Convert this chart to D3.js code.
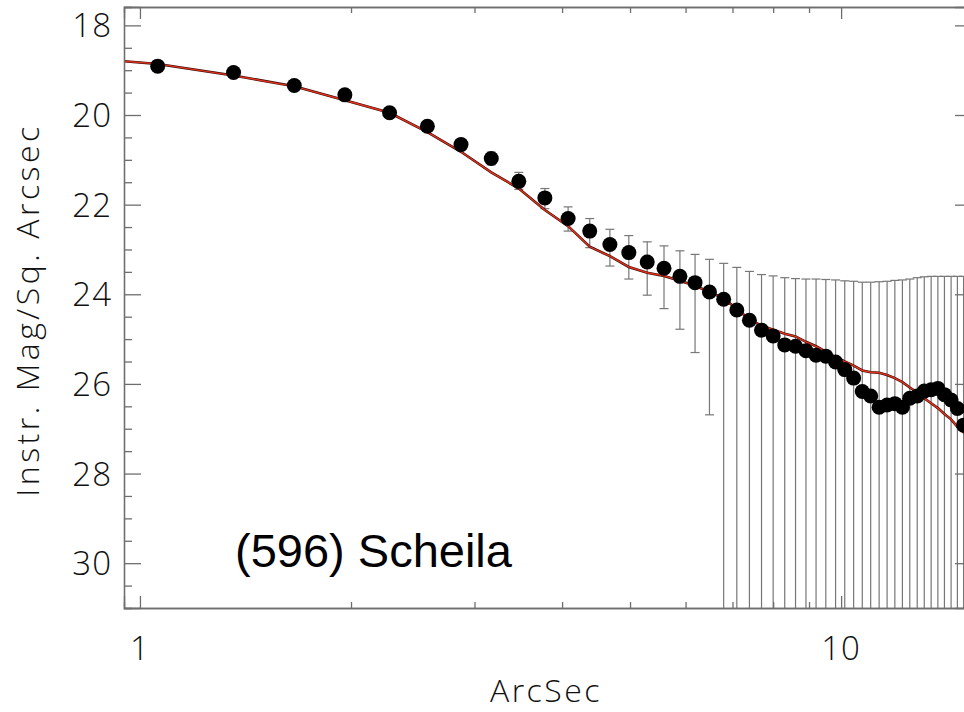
<!DOCTYPE html>
<html>
<head>
<meta charset="utf-8">
<script src="https://cdn.jsdelivr.net/npm/d3@7"></script>
<style>
  body { margin: 0; background: #fff; }
  svg { display: block; }
</style>
</head>
<body>
<div id="chart"></div>
<script>
// radial bins (arcsec)
var xVals = [1.06, 1.36, 1.66, 1.96, 2.27, 2.57, 2.87, 3.17, 3.47, 3.78,
             4.08, 4.38, 4.68, 4.98, 5.29, 5.59, 5.89, 6.19, 6.49, 6.80,
             7.10, 7.40, 7.70, 8.00, 8.31, 8.61, 8.91, 9.21, 9.51, 9.82,
             10.12, 10.42, 10.72, 11.02, 11.33, 11.63, 11.93, 12.23, 12.53, 12.84,
             13.14, 13.44, 13.74, 14.04, 14.35, 14.65, 14.95];
var magVals = [18.91, 19.05, 19.34, 19.55, 19.95, 20.25, 20.66, 20.97, 21.48, 21.85,
               22.31, 22.59, 22.89, 23.07, 23.28, 23.42, 23.60, 23.74, 23.95, 24.11,
               24.35, 24.58, 24.80, 24.93, 25.13, 25.16, 25.26, 25.36, 25.38, 25.51,
               25.68, 25.87, 26.17, 26.27, 26.52, 26.47, 26.44, 26.52, 26.32, 26.27,
               26.16, 26.13, 26.10, 26.24, 26.36, 26.55, 26.92];
// ends of the error bars (40 = runs off the bottom)
var errTop = [18.88, 19.01, 19.29, 19.49, 19.87, 20.15, 20.54, 20.83, 21.28, 21.64,
              22.05, 22.31, 22.55, 22.69, 22.83, 22.92, 23.03, 23.11, 23.22, 23.31,
              23.40, 23.49, 23.56, 23.59, 23.63, 23.65, 23.66, 23.66, 23.67, 23.68,
              23.70, 23.71, 23.73, 23.73, 23.72, 23.71, 23.69, 23.68, 23.66, 23.63,
              23.61, 23.60, 23.60, 23.60, 23.60, 23.60, 23.60];
var errBottom = [18.94, 19.09, 19.39, 19.61, 20.03, 20.35, 20.78, 21.11, 21.66, 22.09,
                 22.59, 22.96, 23.37, 23.66, 24.02, 24.32, 24.78, 25.30, 26.69, 40,
                 40, 40, 40, 40, 40, 40, 40, 40, 40, 40,
                 40, 40, 40, 40, 40, 40, 40, 40, 40, 40,
                 40, 40, 40, 40, 40, 40, 40];
// model profile
var modelX = [0.95, 1.06, 1.36, 1.66, 1.96, 2.27, 2.57, 2.87, 3.17, 3.47, 3.78,
              4.08, 4.38, 4.68, 4.98, 5.29, 5.59, 5.89, 6.19, 6.49, 6.80,
              7.10, 7.40, 7.70, 8.00, 8.31, 8.61, 8.91, 9.21, 9.51, 9.82,
              10.12, 10.42, 10.72, 11.02, 11.33, 11.63, 11.93, 12.23, 12.53, 12.84,
              13.14, 13.44, 13.74, 14.04, 14.35, 14.65, 14.95, 15.25];
var modelY = [18.80, 18.86, 19.12, 19.36, 19.67, 19.95, 20.38, 20.82, 21.28, 21.64, 22.12,
              22.48, 22.94, 23.15, 23.39, 23.52, 23.59, 23.70, 23.81, 23.95, 24.09,
              24.33, 24.56, 24.70, 24.79, 24.88, 24.94, 25.06, 25.16, 25.28, 25.40,
              25.50, 25.59, 25.70, 25.74, 25.75, 25.80, 25.87, 25.96, 26.08, 26.19,
              26.32, 26.43, 26.54, 26.67, 26.79, 26.96, 27.08, 27.10];
var yMajor = [18, 20, 22, 24, 26, 28, 30];
var yMinor = [18.5, 19, 19.5, 20.5, 21, 21.5, 22.5, 23, 23.5, 24.5, 25, 25.5,
              26.5, 27, 27.5, 28.5, 29, 29.5, 30.5];
var xMajor = [1, 10];
var xMinor = [2, 3, 4, 5, 6, 7, 8, 9];

var width = 964, height = 712;
var pLeft = 124, pRight = 972, pTop = 7, pBottom = 608;
var axisColor = "#6e6e6e";
var labelFont = "'Open Sans', 'DejaVu Sans', sans-serif";

var svg = d3.select("#chart").append("svg")
            .attr("width", width)
            .attr("height", height);

var x = d3.scaleLog().domain([0.949, 15.37]).range([pLeft, pRight]);
var y = d3.scaleLinear().domain([17.59, 31.0]).range([pTop, pBottom]);

svg.append("clipPath").attr("id", "plotclip")
   .append("rect")
   .attr("x", pLeft).attr("y", pTop)
   .attr("width", pRight - pLeft).attr("height", pBottom - pTop);

var plot = svg.append("g").attr("clip-path", "url(#plotclip)");

var pts = xVals.map(function(d, i) {
  return {x: d, m: magVals[i], hi: errTop[i], lo: errBottom[i]};
});

// error bars
var bars = plot.append("g")
               .attr("stroke", "#777")
               .attr("stroke-width", 1.2);
bars.selectAll("line.bar")
    .data(pts)
    .enter()
    .append("line")
    .attr("class", "bar")
    .attr("x1", function(d) { return x(d.x); })
    .attr("x2", function(d) { return x(d.x); })
    .attr("y1", function(d) { return y(d.hi); })
    .attr("y2", function(d) { return y(d.lo); });
bars.selectAll("line.captop")
    .data(pts)
    .enter()
    .append("line")
    .attr("class", "captop")
    .attr("x1", function(d) { return x(d.x) - 4.5; })
    .attr("x2", function(d) { return x(d.x) + 4.5; })
    .attr("y1", function(d) { return y(d.hi); })
    .attr("y2", function(d) { return y(d.hi); });
bars.selectAll("line.capbot")
    .data(pts.filter(function(d) { return d.lo < 31; }))
    .enter()
    .append("line")
    .attr("class", "capbot")
    .attr("x1", function(d) { return x(d.x) - 4.5; })
    .attr("x2", function(d) { return x(d.x) + 4.5; })
    .attr("y1", function(d) { return y(d.lo); })
    .attr("y2", function(d) { return y(d.lo); });

// model line
var model = modelX.map(function(d, i) { return [d, modelY[i]]; });
var line = d3.line()
             .x(function(d) { return x(d[0]); })
             .y(function(d) { return y(d[1]); });
plot.append("path")
    .datum(model)
    .attr("d", line)
    .attr("fill", "none")
    .attr("stroke", "#3a0d08")
    .attr("stroke-width", 2.6);
plot.append("path")
    .datum(model)
    .attr("d", line)
    .attr("fill", "none")
    .attr("stroke", "#e0321c")
    .attr("stroke-width", 1.4);

// data points
plot.selectAll("circle")
    .data(pts)
    .enter()
    .append("circle")
    .attr("cx", function(d) { return x(d.x); })
    .attr("cy", function(d) { return y(d.m); })
    .attr("r", 7.5)
    .attr("fill", "black");

// axes: major + minor ticks on all four sides
function styleAxis(g) {
  g.select(".domain").attr("stroke", axisColor).attr("stroke-width", 1.3);
  g.selectAll(".tick line").attr("stroke", axisColor).attr("stroke-width", 1.3);
}

svg.append("g")
   .attr("transform", "translate(" + pLeft + ",0)")
   .call(d3.axisRight(y).tickValues(yMajor).tickSize(17).tickFormat(""))
   .call(styleAxis);
svg.append("g")
   .attr("transform", "translate(" + pLeft + ",0)")
   .call(d3.axisRight(y).tickValues(yMinor).tickSize(8).tickFormat(""))
   .call(styleAxis);
svg.append("g")
   .attr("transform", "translate(" + pRight + ",0)")
   .call(d3.axisLeft(y).tickValues(yMajor).tickSize(17).tickFormat(""))
   .call(styleAxis);
svg.append("g")
   .attr("transform", "translate(" + pRight + ",0)")
   .call(d3.axisLeft(y).tickValues(yMinor).tickSize(8).tickFormat(""))
   .call(styleAxis);

svg.append("g")
   .attr("transform", "translate(0," + pBottom + ")")
   .call(d3.axisTop(x).tickValues(xMajor).tickSize(12).tickFormat(""))
   .call(styleAxis);
svg.append("g")
   .attr("transform", "translate(0," + pBottom + ")")
   .call(d3.axisTop(x).tickValues(xMinor).tickSize(6).tickFormat(""))
   .call(styleAxis);
svg.append("g")
   .attr("transform", "translate(0," + pTop + ")")
   .call(d3.axisBottom(x).tickValues(xMajor).tickSize(12).tickFormat(""))
   .call(styleAxis);
svg.append("g")
   .attr("transform", "translate(0," + pTop + ")")
   .call(d3.axisBottom(x).tickValues(xMinor).tickSize(6).tickFormat(""))
   .call(styleAxis);

// tick labels
svg.append("g").selectAll("text")
   .data(yMajor)
   .enter()
   .append("text")
   .text(function(d) { return d; })
   .attr("x", pLeft - 12)
   .attr("y", function(d) { return y(d) + 12; })
   .attr("text-anchor", "end")
   .attr("fill", "#111")
   .style("font-family", labelFont)
   .style("font-size", "33px")
   .style("font-weight", 300)
   .style("letter-spacing", "1px");

svg.append("g").selectAll("text")
   .data(xMajor)
   .enter()
   .append("text")
   .text(function(d) { return d; })
   .attr("x", function(d) { return x(d); })
   .attr("y", 660)
   .attr("text-anchor", "middle")
   .attr("fill", "#111")
   .style("font-family", labelFont)
   .style("font-size", "33px")
   .style("font-weight", 300)
   .style("letter-spacing", "1px");

// axis titles
svg.append("text")
   .text("ArcSec")
   .attr("x", 546)
   .attr("y", 702)
   .attr("text-anchor", "middle")
   .attr("fill", "#111")
   .style("font-family", labelFont)
   .style("font-size", "32px")
   .style("font-weight", 300)
   .style("letter-spacing", "2.5px");

svg.append("text")
   .text("Instr. Mag/Sq. Arcsec")
   .attr("transform", "translate(39,310) rotate(-90)")
   .attr("text-anchor", "middle")
   .attr("fill", "#111")
   .style("font-family", labelFont)
   .style("font-size", "32px")
   .style("font-weight", 300)
   .style("letter-spacing", "3.5px");

svg.append("text")
   .text("(596) Scheila")
   .attr("x", 235)
   .attr("y", 567)
   .attr("fill", "black")
   .style("font-family", "'Liberation Sans', Arial, sans-serif")
   .style("font-size", "47px");
</script>
</body>
</html>
